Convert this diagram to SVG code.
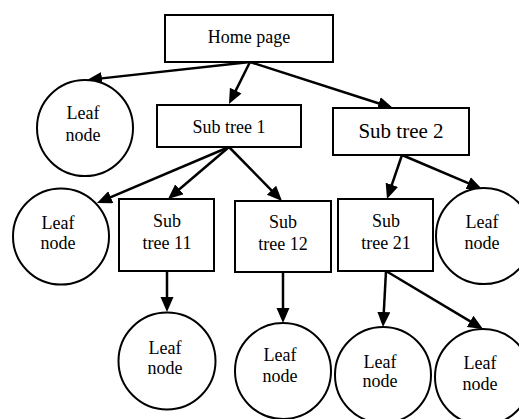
<svg xmlns="http://www.w3.org/2000/svg" width="519" height="419" viewBox="0 0 519 419">
<style>
.box{fill:#fff;stroke:#000;stroke-width:2}
.leaf{fill:#fff;stroke:#000;stroke-width:2}
.t{font-family:'Liberation Serif',serif;font-size:18px;fill:#000;text-anchor:middle}
.big{font-size:21px}
.edge{fill:none;stroke:#000;stroke-width:2.5}
</style>
<defs>
<marker id="ah" markerUnits="userSpaceOnUse" markerWidth="16" markerHeight="14" refX="7" refY="6.5" orient="auto">
<path d="M0,0 L15,6.5 L0,13 z" fill="#000"/>
</marker>
</defs>
<rect width="519" height="419" fill="#fff"/>
<g id="connectors">
<path class="edge" marker-end="url(#ah)" d="M250,62 L94.95,79.12"/>
<path class="edge" marker-end="url(#ah)" d="M250,62 L232.58,96.84"/>
<path class="edge" marker-end="url(#ah)" d="M250,62 L385.38,105.55"/>
<path class="edge" marker-end="url(#ah)" d="M229,147 L104.37,199.88"/>
<path class="edge" marker-end="url(#ah)" d="M229,147 L174.09,193.81"/>
<path class="edge" marker-end="url(#ah)" d="M229,147 L276.4,195.29"/>
<path class="edge" marker-end="url(#ah)" d="M402,155 L389.58,191.43"/>
<path class="edge" marker-end="url(#ah)" d="M402,155 L474.64,185.87"/>
<path class="edge" marker-end="url(#ah)" d="M167,271 L167,304"/>
<path class="edge" marker-end="url(#ah)" d="M283,272 L283,315"/>
<path class="edge" marker-end="url(#ah)" d="M386,271 L383.43,319.01"/>
<path class="edge" marker-end="url(#ah)" d="M386,271 L476.13,324.89"/>
</g>
<g font-family="'Liberation Serif', serif">
<g id="home">
<rect class="box" x="165" y="15" width="168" height="47"/>
<text class="t" x="249" y="43">Home page</text>
</g>
<g id="leaf1">
<circle class="leaf" cx="85" cy="128" r="48"/>
<text class="t" x="83" y="119">Leaf</text>
<text class="t" x="83" y="141">node</text>
</g>
<g id="subtree1">
<rect class="box" x="157" y="105" width="144" height="42"/>
<text class="t" x="229" y="133">Sub tree 1</text>
</g>
<g id="subtree2">
<rect class="box" x="333" y="108" width="136" height="47"/>
<text class="t big" x="401" y="138">Sub tree 2</text>
</g>
<g id="leaf2">
<circle class="leaf" cx="61" cy="236.5" r="48"/>
<text class="t" x="58" y="229">Leaf</text>
<text class="t" x="58" y="249">node</text>
</g>
<g id="subtree11">
<rect class="box" x="119" y="199" width="95" height="72"/>
<text class="t" x="167" y="227">Sub</text>
<text class="t" x="167" y="249">tree 11</text>
</g>
<g id="subtree12">
<rect class="box" x="235" y="201" width="96" height="71"/>
<text class="t" x="283" y="228">Sub</text>
<text class="t" x="283" y="250">tree 12</text>
</g>
<g id="subtree21">
<rect class="box" x="338" y="199" width="95" height="72"/>
<text class="t" x="386" y="227">Sub</text>
<text class="t" x="386" y="249">tree 21</text>
</g>
<g id="leaf3">
<circle class="leaf" cx="484" cy="236" r="48"/>
<text class="t" x="482" y="228">Leaf</text>
<text class="t" x="482" y="249">node</text>
</g>
<g id="leaf4">
<circle class="leaf" cx="167" cy="361" r="48.5"/>
<text class="t" x="165" y="354">Leaf</text>
<text class="t" x="165" y="374">node</text>
</g>
<g id="leaf5">
<circle class="leaf" cx="283" cy="371" r="48"/>
<text class="t" x="280" y="361">Leaf</text>
<text class="t" x="280" y="382">node</text>
</g>
<g id="leaf6">
<circle class="leaf" cx="383" cy="375" r="48"/>
<text class="t" x="380" y="368">Leaf</text>
<text class="t" x="380" y="387">node</text>
</g>
<g id="leaf7">
<circle class="leaf" cx="483" cy="377" r="48"/>
<text class="t" x="480" y="369">Leaf</text>
<text class="t" x="480" y="390">node</text>
</g>
</g>
</svg>
